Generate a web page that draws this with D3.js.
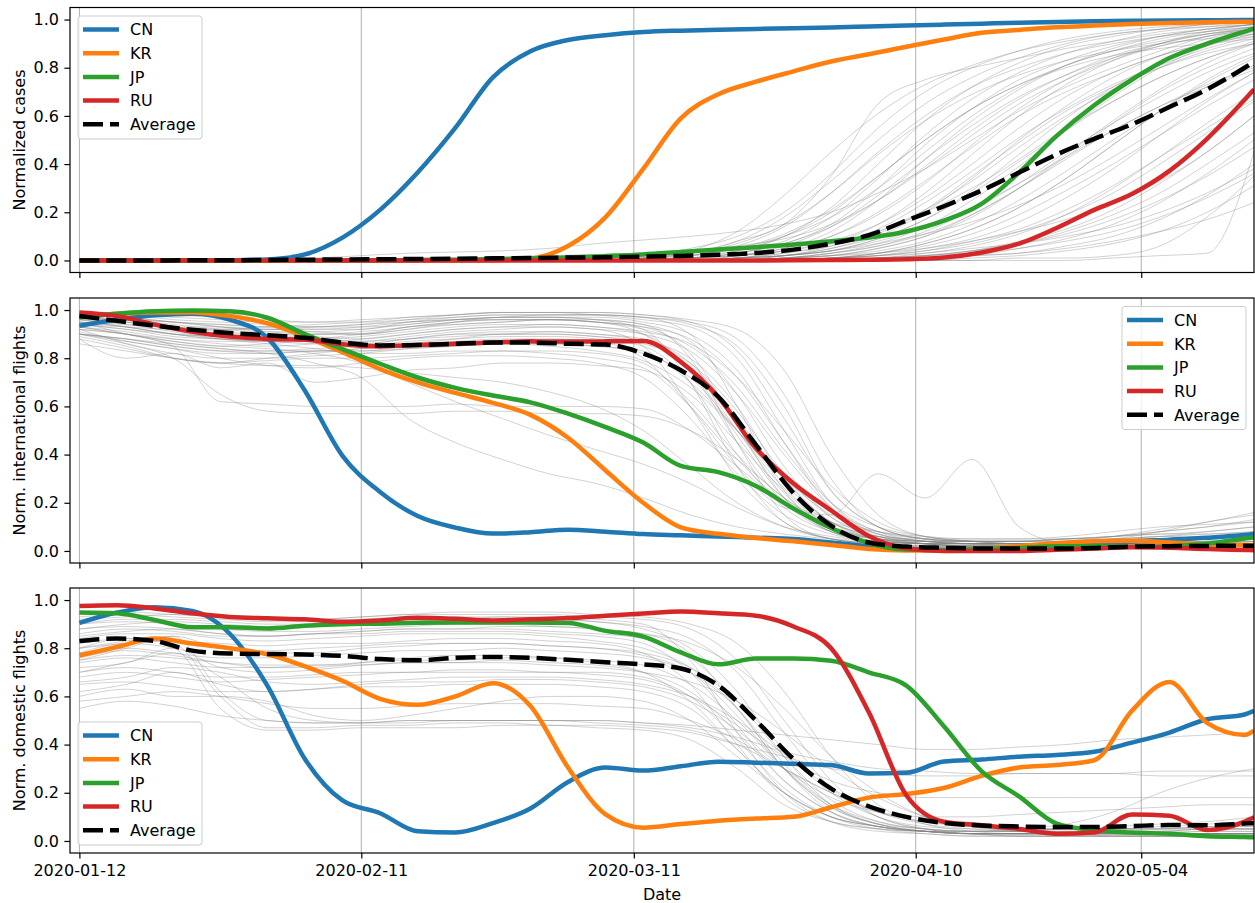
<!DOCTYPE html>
<html><head><meta charset="utf-8">
<script src="https://cdn.jsdelivr.net/npm/d3@7/dist/d3.min.js"></script>
<style>body{margin:0;background:#fff}svg{display:block}text{font-family:"DejaVu Sans",sans-serif}</style>
</head><body><svg id="c" width="1255" height="903"></svg>
<script>
// ---------- data ----------
const startDate = "2020-01-12";
const countries = ["CN","KR","JP","RU"];
const legendLabels = ["CN","KR","JP","RU","Average"];
const tickDates = ["2020-01-12","2020-02-11","2020-03-11","2020-04-10","2020-05-04"];
const yTicks = [0.0,0.2,0.4,0.6,0.8,1.0];
// day offsets from startDate for the country/average series
const colorDays = [0,4,8,12,16,20,24,28,32,36,40,44,48,52,56,60,64,68,72,76,80,84,88,92,96,100,104,108,112,116,120,124,125];
// day offsets for the thin grey per-country lines
const greyDays = [0,5,10,15,20,25,30,35,40,45,50,55,60,65,70,75,80,85,90,95,100,105,110,115,120,125];

const casesCN = [0,0,0,0,0.001,0.004,0.025,0.095,0.21,0.365,0.55,0.76,0.868,0.915,0.935,0.948,0.954,0.958,0.961,0.964,0.967,0.971,0.975,0.979,0.983,0.987,0.99,0.993,0.995,0.996,0.997,0.998,0.998];
const casesKR = [0,0,0,0,0,0,0,0,0,0,0,0.001,0.008,0.06,0.18,0.38,0.59,0.69,0.742,0.785,0.826,0.856,0.887,0.917,0.945,0.957,0.968,0.975,0.981,0.986,0.989,0.991,0.991];
const casesJP = [0,0,0,0,0,0,0,0,0,0.002,0.003,0.005,0.008,0.012,0.018,0.025,0.035,0.045,0.055,0.066,0.08,0.095,0.12,0.165,0.235,0.365,0.517,0.644,0.75,0.84,0.9,0.95,0.962];
const casesRU = [0,0,0,0,0,0,0,0,0,0,0,0,0,0,0,0,0,0,0,0.001,0.002,0.003,0.005,0.012,0.033,0.07,0.135,0.21,0.276,0.372,0.505,0.667,0.71];
const casesAvg = [0,0,0,0.001,0.001,0.002,0.003,0.004,0.005,0.006,0.007,0.009,0.01,0.012,0.013,0.016,0.019,0.024,0.031,0.045,0.07,0.105,0.165,0.225,0.29,0.365,0.44,0.505,0.565,0.637,0.71,0.8,0.825];

const intlCN = [0.935,0.96,0.978,0.985,0.96,0.885,0.665,0.395,0.245,0.145,0.097,0.072,0.078,0.088,0.08,0.07,0.065,0.06,0.055,0.05,0.035,0.02,0.008,0.005,0.008,0.012,0.02,0.028,0.04,0.047,0.055,0.066,0.07];
const intlKR = [0.975,0.985,0.99,0.99,0.975,0.945,0.89,0.825,0.755,0.70,0.656,0.615,0.565,0.47,0.334,0.2,0.098,0.071,0.054,0.04,0.025,0.008,0.002,0.003,0.01,0.02,0.032,0.04,0.042,0.035,0.028,0.025,0.025];
const intlJP = [0.97,0.985,0.995,0.998,0.995,0.968,0.90,0.838,0.777,0.72,0.677,0.645,0.617,0.57,0.514,0.45,0.353,0.327,0.27,0.176,0.095,0.033,0.006,0.004,0.008,0.012,0.02,0.02,0.017,0.02,0.03,0.052,0.057];
const intlRU = [0.99,0.975,0.94,0.91,0.89,0.88,0.877,0.858,0.849,0.855,0.86,0.865,0.87,0.869,0.87,0.872,0.785,0.638,0.426,0.28,0.168,0.062,0.01,0.0,0.0,0.0,0.005,0.01,0.015,0.013,0.008,0.004,0.003];
const intlAvg = [0.975,0.955,0.935,0.918,0.905,0.895,0.885,0.865,0.853,0.855,0.86,0.865,0.865,0.86,0.857,0.82,0.75,0.64,0.44,0.24,0.105,0.035,0.018,0.013,0.01,0.01,0.01,0.012,0.018,0.02,0.021,0.022,0.022];

const domCN = [0.905,0.948,0.97,0.955,0.86,0.645,0.34,0.168,0.115,0.04,0.035,0.074,0.135,0.245,0.305,0.292,0.31,0.329,0.325,0.32,0.315,0.28,0.283,0.33,0.338,0.35,0.357,0.37,0.408,0.45,0.505,0.525,0.54];
const domKR = [0.77,0.805,0.84,0.82,0.8,0.775,0.725,0.665,0.59,0.565,0.6,0.655,0.56,0.305,0.11,0.055,0.07,0.084,0.093,0.1,0.14,0.18,0.195,0.22,0.27,0.305,0.315,0.335,0.54,0.66,0.49,0.44,0.458];
const domJP = [0.948,0.945,0.917,0.887,0.887,0.882,0.893,0.9,0.902,0.906,0.907,0.907,0.907,0.905,0.872,0.848,0.783,0.733,0.757,0.757,0.748,0.70,0.645,0.476,0.29,0.185,0.072,0.045,0.035,0.03,0.02,0.016,0.015];
const domRU = [0.975,0.978,0.965,0.945,0.93,0.924,0.92,0.91,0.915,0.926,0.922,0.915,0.92,0.925,0.935,0.944,0.952,0.945,0.935,0.89,0.8,0.535,0.19,0.08,0.065,0.05,0.03,0.035,0.11,0.105,0.045,0.08,0.098];
const domAvg = [0.83,0.84,0.83,0.79,0.778,0.776,0.774,0.768,0.755,0.75,0.76,0.764,0.76,0.752,0.742,0.733,0.716,0.645,0.5,0.34,0.217,0.144,0.1,0.075,0.064,0.06,0.058,0.058,0.062,0.066,0.065,0.072,0.074];

const casesGrey = [
 [0,0,0,0,0.005,0.01,0.02,0.03,0.035,0.04,0.05,0.07,0.085,0.1,0.12,0.15,0.2,0.28,0.38,0.5,0.62,0.72,0.8,0.87,0.93,0.97],
 [0,0,0,0,0,0,0,0,0,0,0,0,0.01,0.03,0.08,0.15,0.35,0.65,0.75,0.8,0.84,0.88,0.91,0.94,0.96,0.98],
 [0,0,0,0,0,0,0,0.003,0.008,0.015,0.02,0.025,0.03,0.04,0.06,0.09,0.15,0.25,0.38,0.52,0.65,0.75,0.83,0.89,0.93,0.96],
 [0,0,0,0,0,0,0,0,0,0,0,0,0.01,0.03,0.08,0.18,0.33,0.5,0.65,0.76,0.84,0.9,0.94,0.96,0.98,0.99],
 [0,0,0,0,0,0,0,0,0,0,0,0,0,0.01,0.03,0.08,0.18,0.34,0.52,0.67,0.78,0.86,0.91,0.95,0.97,0.99],
 [0,0,0,0,0,0,0,0,0,0,0,0,0,0.01,0.02,0.05,0.12,0.25,0.42,0.58,0.71,0.81,0.88,0.93,0.96,0.98],
 [0,0,0,0,0,0,0,0,0,0,0,0,0,0,0.01,0.03,0.07,0.15,0.28,0.44,0.6,0.73,0.83,0.9,0.95,0.98],
 [0,0,0,0,0,0,0,0,0,0,0,0,0,0,0.01,0.02,0.05,0.1,0.2,0.34,0.5,0.64,0.76,0.85,0.92,0.96],
 [0,0,0,0,0,0,0,0,0,0,0,0,0,0,0,0.01,0.03,0.07,0.14,0.25,0.39,0.54,0.68,0.8,0.89,0.95],
 [0,0,0,0,0,0,0,0,0,0,0,0,0,0,0,0.01,0.02,0.05,0.1,0.18,0.3,0.44,0.58,0.71,0.82,0.9],
 [0,0,0,0,0,0,0,0,0,0,0,0,0,0,0,0,0.01,0.03,0.07,0.13,0.22,0.34,0.48,0.62,0.75,0.85],
 [0,0,0,0,0,0,0,0,0,0,0,0,0,0,0,0,0.01,0.02,0.05,0.09,0.16,0.26,0.38,0.52,0.66,0.78],
 [0,0,0,0,0,0,0,0,0,0,0,0,0,0,0,0,0,0.01,0.03,0.06,0.11,0.19,0.3,0.43,0.57,0.7],
 [0,0,0,0,0,0,0,0,0,0,0,0,0,0,0,0,0,0.01,0.02,0.04,0.08,0.13,0.21,0.32,0.45,0.6],
 [0,0,0,0,0,0,0,0,0,0,0,0,0,0,0,0,0,0,0.01,0.02,0.05,0.09,0.15,0.24,0.36,0.5],
 [0,0,0,0,0,0,0,0,0,0,0,0,0,0,0,0,0,0,0.01,0.02,0.03,0.06,0.1,0.17,0.27,0.4],
 [0,0,0,0,0,0,0,0,0,0,0,0,0,0,0,0,0,0,0,0.01,0.02,0.04,0.07,0.12,0.2,0.31],
 [0,0,0,0,0,0,0,0,0,0,0,0,0,0,0,0,0,0,0,0,0,0,0.01,0.02,0.03,0.45],
 [0,0,0,0,0,0,0,0,0,0,0,0,0.01,0.02,0.04,0.1,0.22,0.4,0.58,0.72,0.82,0.89,0.93,0.96,0.98,0.99],
 [0,0,0,0,0,0,0,0,0,0,0,0,0,0.02,0.06,0.14,0.28,0.45,0.6,0.72,0.8,0.86,0.9,0.93,0.95,0.97],
 [0,0,0,0,0,0,0,0,0,0,0,0,0,0.01,0.04,0.1,0.2,0.35,0.5,0.63,0.73,0.81,0.87,0.91,0.94,0.96],
 [0,0,0,0,0,0,0,0,0,0,0,0,0,0,0.02,0.06,0.14,0.27,0.42,0.56,0.68,0.77,0.84,0.89,0.93,0.96],
 [0,0,0,0,0,0,0,0,0,0,0,0,0,0,0.01,0.04,0.1,0.2,0.33,0.47,0.6,0.7,0.78,0.85,0.9,0.94],
 [0,0,0,0,0,0,0,0,0,0,0,0,0,0,0.01,0.02,0.06,0.13,0.24,0.37,0.51,0.63,0.73,0.81,0.88,0.93],
 [0,0,0,0,0,0,0,0,0,0,0,0,0,0,0,0.02,0.04,0.09,0.17,0.28,0.41,0.54,0.66,0.76,0.84,0.91],
 [0,0,0,0,0,0,0,0,0,0,0,0,0,0,0,0.01,0.03,0.06,0.12,0.21,0.32,0.45,0.57,0.68,0.78,0.86],
 [0,0,0,0,0,0,0,0,0,0,0,0,0,0,0,0.01,0.02,0.04,0.08,0.15,0.25,0.37,0.5,0.62,0.72,0.81],
 [0,0,0,0,0,0,0,0,0,0,0,0,0,0,0,0,0.01,0.03,0.06,0.11,0.19,0.29,0.4,0.52,0.64,0.75],
 [0,0,0,0,0,0,0,0,0,0,0,0,0,0,0,0,0.01,0.02,0.04,0.08,0.13,0.21,0.31,0.43,0.55,0.67],
 [0,0,0,0,0,0,0,0,0,0,0,0,0,0,0,0,0,0.01,0.02,0.04,0.07,0.12,0.19,0.28,0.4,0.53],
 [0,0,0,0,0,0,0,0,0,0,0,0,0,0,0,0,0,0.01,0.02,0.03,0.05,0.08,0.12,0.18,0.26,0.36],
 [0,0,0,0,0,0,0,0,0,0,0,0,0,0,0,0,0,0,0,0,0.01,0.01,0.02,0.06,0.18,0.35],
 [0,0,0,0,0,0,0,0,0,0,0,0,0.01,0.04,0.12,0.27,0.45,0.61,0.73,0.81,0.87,0.91,0.94,0.96,0.97,0.98],
 [0,0,0,0,0,0,0,0,0,0,0,0.01,0.02,0.05,0.1,0.2,0.36,0.55,0.7,0.8,0.87,0.92,0.95,0.97,0.98,0.99],
 [0,0,0,0,0,0,0,0,0,0,0,0,0,0.01,0.03,0.07,0.15,0.3,0.48,0.63,0.75,0.83,0.89,0.93,0.96,0.98],
 [0,0,0,0,0,0,0,0,0,0,0,0,0,0,0.01,0.02,0.05,0.11,0.21,0.35,0.49,0.62,0.72,0.8,0.86,0.9],
 [0,0,0,0,0,0,0,0,0,0,0,0,0,0,0,0.01,0.02,0.05,0.1,0.19,0.3,0.42,0.54,0.64,0.73,0.8],
 [0,0,0,0,0,0,0,0,0,0,0,0,0,0.01,0.02,0.04,0.07,0.12,0.2,0.3,0.42,0.55,0.66,0.76,0.84,0.9],
 [0,0,0,0,0,0,0,0,0,0,0,0,0,0,0.01,0.02,0.04,0.07,0.11,0.16,0.23,0.32,0.43,0.55,0.67,0.78],
 [0,0,0,0,0,0,0,0,0,0,0,0,0,0,0,0.01,0.02,0.03,0.05,0.08,0.12,0.17,0.24,0.33,0.45,0.6],
 [0,0,0,0,0,0,0,0,0,0,0,0,0,0,0,0,0.01,0.02,0.03,0.05,0.07,0.1,0.14,0.2,0.28,0.38],
 [0,0,0,0,0,0,0,0,0,0,0,0,0.01,0.02,0.05,0.1,0.18,0.3,0.45,0.6,0.72,0.81,0.87,0.92,0.95,0.97],
 [0,0,0,0,0,0,0,0,0,0,0,0,0,0.01,0.03,0.07,0.14,0.25,0.39,0.54,0.67,0.77,0.85,0.9,0.94,0.96],
 [0,0,0,0,0,0,0,0,0,0,0,0,0,0,0.01,0.03,0.06,0.12,0.21,0.33,0.47,0.6,0.71,0.8,0.87,0.92],
 [0,0,0,0,0,0,0,0,0,0,0,0,0,0,0,0.01,0.03,0.06,0.11,0.19,0.3,0.43,0.57,0.7,0.8,0.88],
 [0,0,0,0,0,0,0,0,0,0,0,0,0,0.02,0.05,0.11,0.21,0.35,0.5,0.63,0.73,0.8,0.85,0.88,0.9,0.92],
 [0,0,0,0,0,0,0,0,0,0,0,0,0.01,0.03,0.07,0.15,0.28,0.44,0.58,0.69,0.77,0.83,0.87,0.9,0.92,0.94],
 [0,0,0,0,0,0,0,0,0,0,0,0,0,0,0.01,0.02,0.04,0.08,0.14,0.22,0.32,0.43,0.54,0.64,0.72,0.79],
 [0,0,0,0,0,0,0,0,0,0,0,0,0,0,0,0,0.01,0.02,0.04,0.07,0.12,0.19,0.28,0.4,0.53,0.66],
 [0,0,0,0,0,0,0,0,0,0,0,0,0,0,0,0,0,0.01,0.02,0.04,0.07,0.11,0.17,0.25,0.35,0.47],
 [0,0,0,0,0,0,0,0,0,0,0,0,0,0,0,0,0,0,0.01,0.02,0.03,0.05,0.08,0.12,0.17,0.24],
 [0,0,0,0,0,0,0,0,0,0,0,0,0,0.01,0.02,0.04,0.08,0.15,0.26,0.4,0.55,0.68,0.78,0.85,0.9,0.93],
 [0,0,0,0,0,0,0,0,0,0,0,0,0,0,0.02,0.05,0.1,0.19,0.32,0.48,0.63,0.75,0.84,0.9,0.94,0.97],
 [0,0,0,0,0,0,0,0,0,0,0,0,0,0,0,0.02,0.04,0.09,0.17,0.29,0.44,0.59,0.72,0.82,0.89,0.94],
 [0,0,0,0,0,0,0,0,0,0,0,0,0,0,0,0,0.01,0.03,0.07,0.13,0.22,0.34,0.48,0.62,0.74,0.84]
];

const intlGrey = [
 [0.98,0.97,0.95,0.94,0.93,0.92,0.92,0.95,0.97,0.98,0.98,0.98,0.97,0.9,0.6,0.25,0.08,0.04,0.03,0.03,0.02,0.02,0.02,0.03,0.03,0.04],
 [0.95,0.93,0.9,0.88,0.88,0.9,0.9,0.93,0.94,0.95,0.96,0.96,0.94,0.8,0.45,0.15,0.05,0.03,0.02,0.02,0.02,0.02,0.03,0.03,0.04,0.05],
 [0.97,0.95,0.92,0.9,0.9,0.89,0.88,0.9,0.92,0.93,0.93,0.92,0.85,0.6,0.3,0.12,0.05,0.03,0.02,0.02,0.02,0.02,0.02,0.02,0.03,0.03],
 [0.93,0.9,0.87,0.85,0.86,0.87,0.86,0.88,0.9,0.9,0.91,0.9,0.88,0.78,0.55,0.3,0.12,0.05,0.03,0.02,0.02,0.02,0.02,0.02,0.02,0.02],
 [0.96,0.96,0.95,0.93,0.92,0.93,0.94,0.96,0.98,0.99,0.99,0.98,0.96,0.93,0.8,0.5,0.2,0.07,0.04,0.03,0.03,0.03,0.04,0.05,0.06,0.07],
 [0.9,0.88,0.85,0.83,0.83,0.84,0.85,0.87,0.88,0.89,0.89,0.88,0.85,0.7,0.4,0.18,0.08,0.05,0.04,0.04,0.04,0.05,0.06,0.07,0.08,0.1],
 [0.99,0.98,0.96,0.95,0.94,0.93,0.93,0.94,0.96,0.97,0.98,0.98,0.97,0.95,0.88,0.65,0.3,0.1,0.05,0.04,0.03,0.03,0.03,0.03,0.04,0.04],
 [0.94,0.92,0.89,0.88,0.87,0.87,0.87,0.89,0.91,0.92,0.93,0.92,0.9,0.83,0.65,0.4,0.18,0.08,0.04,0.03,0.02,0.02,0.02,0.02,0.02,0.03],
 [0.92,0.9,0.86,0.84,0.83,0.83,0.83,0.84,0.85,0.86,0.86,0.85,0.83,0.7,0.5,0.28,0.12,0.06,0.03,0.02,0.02,0.02,0.02,0.02,0.03,0.03],
 [0.97,0.95,0.93,0.92,0.92,0.91,0.9,0.92,0.94,0.95,0.96,0.95,0.93,0.88,0.72,0.45,0.2,0.08,0.05,0.04,0.04,0.05,0.06,0.07,0.07,0.08],
 [0.95,0.9,0.85,0.62,0.61,0.6,0.6,0.6,0.61,0.6,0.6,0.6,0.59,0.5,0.35,0.2,0.1,0.05,0.03,0.02,0.02,0.02,0.02,0.02,0.02,0.02],
 [0.92,0.86,0.8,0.65,0.58,0.57,0.57,0.57,0.58,0.58,0.57,0.57,0.56,0.5,0.38,0.22,0.1,0.05,0.03,0.02,0.02,0.02,0.02,0.02,0.02,0.02],
 [0.9,0.88,0.86,0.84,0.82,0.78,0.72,0.55,0.45,0.38,0.32,0.28,0.22,0.15,0.1,0.07,0.05,0.04,0.03,0.03,0.03,0.03,0.03,0.03,0.03,0.03],
 [0.93,0.9,0.87,0.85,0.84,0.82,0.78,0.7,0.62,0.55,0.48,0.42,0.36,0.28,0.18,0.1,0.06,0.04,0.03,0.03,0.03,0.03,0.03,0.03,0.04,0.04],
 [0.9,0.88,0.85,0.83,0.82,0.83,0.84,0.86,0.87,0.88,0.88,0.87,0.8,0.6,0.35,0.18,0.15,0.32,0.22,0.38,0.1,0.03,0.02,0.02,0.02,0.02],
 [0.88,0.8,0.82,0.76,0.78,0.7,0.72,0.75,0.76,0.78,0.78,0.77,0.75,0.65,0.45,0.25,0.1,0.05,0.03,0.03,0.03,0.03,0.03,0.03,0.03,0.03],
 [0.96,0.94,0.91,0.88,0.86,0.84,0.82,0.82,0.83,0.83,0.82,0.8,0.76,0.6,0.38,0.2,0.1,0.06,0.05,0.05,0.05,0.06,0.08,0.1,0.11,0.12],
 [0.94,0.93,0.92,0.92,0.93,0.94,0.95,0.97,0.98,0.99,0.99,0.99,0.98,0.96,0.92,0.75,0.4,0.15,0.06,0.04,0.03,0.03,0.03,0.04,0.05,0.06],
 [0.98,0.97,0.95,0.93,0.91,0.9,0.9,0.92,0.95,0.97,0.97,0.96,0.92,0.7,0.35,0.12,0.05,0.03,0.02,0.02,0.02,0.02,0.02,0.02,0.02,0.02],
 [0.91,0.87,0.84,0.8,0.77,0.76,0.78,0.8,0.81,0.81,0.8,0.78,0.72,0.55,0.32,0.15,0.07,0.04,0.03,0.03,0.03,0.03,0.04,0.04,0.05,0.05],
 [0.95,0.94,0.93,0.93,0.92,0.92,0.93,0.95,0.96,0.97,0.97,0.97,0.95,0.9,0.75,0.45,0.18,0.07,0.04,0.03,0.03,0.04,0.05,0.08,0.12,0.15],
 [0.89,0.85,0.8,0.78,0.79,0.8,0.8,0.81,0.82,0.83,0.83,0.82,0.78,0.62,0.4,0.22,0.12,0.08,0.05,0.04,0.04,0.04,0.05,0.06,0.07,0.08],
 [0.97,0.96,0.95,0.94,0.93,0.93,0.94,0.95,0.96,0.96,0.96,0.95,0.92,0.85,0.68,0.42,0.2,0.1,0.06,0.04,0.03,0.03,0.03,0.03,0.03,0.03],
 [0.86,0.83,0.8,0.78,0.77,0.77,0.76,0.74,0.72,0.7,0.66,0.6,0.5,0.35,0.2,0.1,0.05,0.03,0.02,0.02,0.02,0.02,0.02,0.02,0.02,0.02],
 [0.99,0.99,0.98,0.97,0.96,0.95,0.95,0.96,0.97,0.98,0.98,0.98,0.97,0.94,0.85,0.6,0.25,0.1,0.05,0.04,0.04,0.05,0.06,0.08,0.1,0.12],
 [0.93,0.91,0.88,0.86,0.85,0.86,0.88,0.9,0.92,0.93,0.94,0.93,0.9,0.75,0.45,0.2,0.08,0.04,0.03,0.03,0.03,0.03,0.03,0.03,0.03,0.03],
 [0.9,0.87,0.84,0.82,0.82,0.83,0.83,0.85,0.86,0.86,0.85,0.83,0.79,0.68,0.5,0.3,0.15,0.08,0.06,0.05,0.05,0.05,0.06,0.08,0.1,0.13],
 [0.96,0.93,0.9,0.89,0.88,0.88,0.87,0.88,0.89,0.9,0.9,0.89,0.87,0.8,0.6,0.3,0.12,0.06,0.04,0.04,0.04,0.05,0.05,0.06,0.06,0.06],
 [0.97,0.96,0.94,0.92,0.91,0.91,0.92,0.94,0.96,0.97,0.97,0.96,0.94,0.87,0.65,0.35,0.14,0.06,0.03,0.02,0.02,0.02,0.02,0.02,0.03,0.03],
 [0.92,0.9,0.88,0.87,0.87,0.88,0.9,0.93,0.95,0.96,0.96,0.95,0.93,0.82,0.52,0.22,0.08,0.04,0.03,0.02,0.02,0.02,0.02,0.02,0.02,0.02],
 [0.95,0.93,0.9,0.88,0.87,0.86,0.86,0.88,0.9,0.91,0.91,0.9,0.87,0.76,0.5,0.24,0.1,0.05,0.04,0.04,0.04,0.04,0.05,0.06,0.08,0.1],
 [0.99,0.98,0.97,0.96,0.95,0.95,0.96,0.97,0.98,0.99,0.99,0.99,0.98,0.95,0.83,0.55,0.25,0.1,0.05,0.03,0.03,0.03,0.03,0.03,0.03,0.04],
 [0.9,0.86,0.82,0.8,0.8,0.81,0.82,0.84,0.85,0.86,0.86,0.85,0.82,0.72,0.5,0.26,0.12,0.06,0.04,0.03,0.03,0.03,0.04,0.05,0.06,0.07],
 [0.96,0.95,0.93,0.91,0.9,0.9,0.91,0.93,0.95,0.96,0.96,0.95,0.9,0.75,0.48,0.22,0.09,0.05,0.04,0.03,0.03,0.04,0.06,0.09,0.12,0.16],
 [0.94,0.92,0.9,0.89,0.88,0.88,0.89,0.91,0.93,0.94,0.94,0.93,0.91,0.86,0.72,0.5,0.27,0.12,0.06,0.04,0.03,0.03,0.03,0.03,0.03,0.03],
 [0.88,0.84,0.8,0.78,0.8,0.82,0.84,0.86,0.88,0.9,0.9,0.89,0.86,0.78,0.58,0.32,0.14,0.07,0.04,0.03,0.03,0.03,0.03,0.03,0.04,0.05]
];

const domGrey = [
 [0.9,0.92,0.92,0.91,0.9,0.9,0.91,0.92,0.92,0.93,0.93,0.92,0.9,0.75,0.45,0.2,0.08,0.04,0.03,0.02,0.02,0.02,0.02,0.02,0.02,0.02],
 [0.85,0.87,0.88,0.86,0.85,0.86,0.87,0.88,0.88,0.89,0.89,0.88,0.86,0.78,0.55,0.3,0.12,0.06,0.04,0.03,0.03,0.03,0.03,0.03,0.04,0.04],
 [0.8,0.84,0.82,0.6,0.47,0.47,0.48,0.48,0.49,0.49,0.48,0.48,0.47,0.45,0.4,0.35,0.3,0.28,0.27,0.27,0.28,0.28,0.28,0.27,0.27,0.27],
 [0.78,0.82,0.8,0.55,0.46,0.46,0.47,0.47,0.47,0.48,0.48,0.47,0.46,0.42,0.3,0.15,0.08,0.05,0.04,0.04,0.04,0.05,0.06,0.07,0.08,0.1],
 [0.75,0.8,0.85,0.62,0.5,0.49,0.49,0.5,0.5,0.5,0.5,0.5,0.49,0.48,0.46,0.44,0.42,0.4,0.38,0.38,0.39,0.4,0.42,0.43,0.44,0.45],
 [0.7,0.72,0.7,0.68,0.68,0.69,0.7,0.7,0.71,0.71,0.7,0.7,0.68,0.6,0.42,0.22,0.1,0.05,0.03,0.02,0.02,0.02,0.02,0.02,0.02,0.02],
 [0.65,0.66,0.64,0.62,0.62,0.63,0.64,0.64,0.65,0.65,0.65,0.64,0.62,0.55,0.38,0.2,0.1,0.06,0.04,0.03,0.03,0.03,0.03,0.03,0.03,0.03],
 [0.6,0.63,0.6,0.6,0.58,0.52,0.5,0.52,0.55,0.58,0.6,0.6,0.58,0.5,0.35,0.2,0.1,0.06,0.04,0.03,0.03,0.03,0.04,0.04,0.05,0.05],
 [0.88,0.9,0.91,0.9,0.89,0.9,0.9,0.91,0.92,0.92,0.92,0.91,0.88,0.8,0.62,0.35,0.15,0.07,0.04,0.03,0.03,0.03,0.03,0.03,0.03,0.03],
 [0.82,0.84,0.83,0.82,0.81,0.82,0.82,0.83,0.84,0.84,0.83,0.82,0.78,0.65,0.4,0.18,0.08,0.05,0.04,0.03,0.03,0.03,0.03,0.03,0.03,0.03],
 [0.75,0.77,0.76,0.74,0.73,0.73,0.74,0.75,0.75,0.76,0.76,0.75,0.73,0.65,0.5,0.3,0.15,0.08,0.05,0.04,0.04,0.05,0.05,0.06,0.07,0.08],
 [0.72,0.74,0.8,0.72,0.7,0.71,0.73,0.74,0.74,0.75,0.74,0.73,0.7,0.62,0.45,0.25,0.12,0.06,0.04,0.03,0.03,0.03,0.03,0.03,0.03,0.03],
 [0.92,0.93,0.94,0.93,0.92,0.92,0.93,0.94,0.94,0.94,0.94,0.93,0.92,0.88,0.75,0.5,0.25,0.1,0.05,0.03,0.02,0.02,0.02,0.02,0.02,0.02],
 [0.68,0.7,0.68,0.66,0.67,0.68,0.69,0.7,0.7,0.7,0.7,0.69,0.67,0.6,0.48,0.35,0.25,0.2,0.18,0.18,0.18,0.18,0.18,0.18,0.18,0.18],
 [0.8,0.83,0.85,0.8,0.78,0.78,0.8,0.81,0.82,0.82,0.81,0.8,0.78,0.72,0.58,0.38,0.2,0.1,0.06,0.05,0.05,0.05,0.05,0.05,0.06,0.06],
 [0.86,0.88,0.87,0.85,0.85,0.86,0.86,0.87,0.87,0.87,0.86,0.85,0.82,0.7,0.48,0.25,0.12,0.06,0.04,0.04,0.05,0.07,0.12,0.2,0.26,0.3],
 [0.58,0.6,0.62,0.6,0.57,0.55,0.55,0.56,0.57,0.57,0.57,0.56,0.55,0.5,0.42,0.3,0.2,0.12,0.08,0.06,0.05,0.05,0.05,0.05,0.05,0.05],
 [0.9,0.91,0.9,0.88,0.87,0.87,0.88,0.89,0.9,0.9,0.89,0.88,0.86,0.82,0.72,0.55,0.35,0.2,0.1,0.06,0.04,0.03,0.03,0.03,0.03,0.03],
 [0.78,0.8,0.78,0.76,0.76,0.77,0.78,0.79,0.79,0.8,0.79,0.78,0.76,0.7,0.55,0.32,0.15,0.07,0.04,0.03,0.02,0.02,0.02,0.02,0.02,0.02],
 [0.62,0.65,0.7,0.65,0.62,0.63,0.65,0.66,0.66,0.67,0.67,0.66,0.64,0.58,0.46,0.3,0.18,0.12,0.1,0.1,0.11,0.12,0.13,0.14,0.15,0.15],
 [0.84,0.86,0.86,0.84,0.83,0.84,0.85,0.86,0.86,0.86,0.85,0.83,0.8,0.72,0.55,0.3,0.14,0.07,0.05,0.04,0.04,0.05,0.05,0.05,0.06,0.06],
 [0.95,0.95,0.94,0.93,0.92,0.92,0.93,0.94,0.95,0.95,0.95,0.94,0.93,0.9,0.82,0.62,0.35,0.15,0.07,0.04,0.03,0.03,0.02,0.02,0.02,0.02],
 [0.7,0.74,0.78,0.68,0.55,0.5,0.49,0.49,0.5,0.5,0.5,0.5,0.49,0.47,0.43,0.37,0.33,0.3,0.29,0.28,0.28,0.28,0.28,0.29,0.29,0.29],
 [0.74,0.76,0.74,0.72,0.72,0.73,0.73,0.74,0.74,0.74,0.73,0.72,0.7,0.66,0.58,0.45,0.3,0.18,0.1,0.06,0.04,0.03,0.03,0.03,0.03,0.03],
 [0.88,0.89,0.88,0.86,0.85,0.86,0.87,0.88,0.88,0.88,0.87,0.86,0.84,0.76,0.58,0.35,0.17,0.08,0.05,0.04,0.04,0.04,0.04,0.04,0.05,0.05],
 [0.8,0.82,0.83,0.8,0.79,0.8,0.81,0.82,0.82,0.82,0.81,0.8,0.77,0.7,0.52,0.3,0.14,0.07,0.04,0.03,0.03,0.03,0.03,0.03,0.03,0.03],
 [0.66,0.68,0.72,0.7,0.66,0.65,0.66,0.67,0.68,0.68,0.68,0.67,0.65,0.6,0.5,0.36,0.22,0.12,0.07,0.05,0.04,0.04,0.04,0.04,0.04,0.04],
 [0.93,0.94,0.93,0.92,0.91,0.91,0.92,0.93,0.93,0.93,0.92,0.91,0.89,0.84,0.7,0.45,0.22,0.1,0.05,0.03,0.03,0.03,0.03,0.03,0.03,0.03],
 [0.76,0.79,0.77,0.74,0.72,0.72,0.74,0.76,0.77,0.77,0.76,0.74,0.7,0.58,0.38,0.2,0.1,0.06,0.04,0.03,0.03,0.03,0.03,0.03,0.03,0.03],
 [0.55,0.58,0.56,0.52,0.5,0.49,0.49,0.5,0.5,0.5,0.5,0.49,0.48,0.46,0.4,0.3,0.2,0.12,0.08,0.06,0.05,0.05,0.05,0.05,0.05,0.05]
];

const colors = {CN:"#1f77b4", KR:"#ff7f0e", JP:"#2ca02c", RU:"#d62728"};

// ---------- drawing ----------
const svg = d3.select("#c");
const parse = d3.utcParse("%Y-%m-%d");
const t0 = parse(startDate);
const dayDate = d => d3.utcDay.offset(t0, d);
const L = 70, R = 1254, PH = 265;
const x = d3.scaleUtc().domain([parse("2020-01-11"), parse("2020-05-16")]).range([L, R]);
const ticks = tickDates.map(parse);
const FONT = "DejaVu Sans";

const panels = [
  {top: 7.5, label: "Normalized cases", series: [casesCN, casesKR, casesJP, casesRU], avg: casesAvg, greys: casesGrey, legend: "ul"},
  {top: 298, label: "Norm. international flights", series: [intlCN, intlKR, intlJP, intlRU], avg: intlAvg, greys: intlGrey, legend: "ur"},
  {top: 588, label: "Norm. domestic flights", series: [domCN, domKR, domJP, domRU], avg: domAvg, greys: domGrey, legend: "ll"}
];

panels.forEach((p, pi) => {
  const y = d3.scaleLinear().domain([-0.05, 1.05]).range([p.top + PH, p.top]);
  const g = svg.append("g");
  const cid = "clip" + pi;
  svg.append("clipPath").attr("id", cid).append("rect")
    .attr("x", L).attr("y", p.top).attr("width", R - L).attr("height", PH);

  g.selectAll("line.grid").data(ticks).join("line")
    .attr("x1", d => x(d)).attr("x2", d => x(d))
    .attr("y1", p.top).attr("y2", p.top + PH)
    .attr("stroke", "#b0b0b0").attr("stroke-width", 1);

  const plot = g.append("g").attr("clip-path", `url(#${cid})`);
  const greyLine = d3.line().x((v, i) => x(dayDate(greyDays[i]))).y(v => y(v)).curve(d3.curveMonotoneX);
  const colLine = d3.line().x((v, i) => x(dayDate(colorDays[i]))).y(v => y(v)).curve(d3.curveMonotoneX);

  plot.selectAll("path.grey").data(p.greys).join("path")
    .attr("d", d => greyLine(d.slice(0, greyDays.length)))
    .attr("fill", "none").attr("stroke", "#808080").attr("stroke-opacity", 0.4).attr("stroke-width", 0.9);

  p.series.forEach((s, i) => {
    plot.append("path").attr("d", colLine(s)).attr("fill", "none")
      .attr("stroke", colors[countries[i]]).attr("stroke-width", 4.5)
      .attr("stroke-linejoin", "round").attr("stroke-linecap", "butt");
  });
  plot.append("path").attr("d", colLine(p.avg)).attr("fill", "none")
    .attr("stroke", "#000").attr("stroke-width", 4.5).attr("stroke-dasharray", "20,7")
    .attr("stroke-linejoin", "round");

  g.append("rect").attr("x", L).attr("y", p.top).attr("width", R - L).attr("height", PH)
    .attr("fill", "none").attr("stroke", "#000").attr("stroke-width", 1.2);

  const ya = g.append("g").attr("transform", `translate(${L},0)`)
    .call(d3.axisLeft(y).tickValues(yTicks).tickFormat(d3.format(".1f")).tickSize(5.6).tickPadding(5.4));
  ya.select(".domain").remove();
  ya.selectAll("line").attr("stroke", "#000").attr("stroke-width", 1.2);
  ya.selectAll("text").attr("font-size", 16).attr("font-family", FONT).attr("fill", "#000");

  const xa = g.append("g").attr("transform", `translate(0,${p.top + PH})`)
    .call(d3.axisBottom(x).tickValues(ticks).tickSize(5.6).tickPadding(6.5)
      .tickFormat(pi === 2 ? d3.utcFormat("%Y-%m-%d") : () => ""));
  xa.select(".domain").remove();
  xa.selectAll("line").attr("stroke", "#000").attr("stroke-width", 1.2);
  xa.selectAll("text").attr("font-size", 16).attr("font-family", FONT).attr("fill", "#000");

  g.append("text").attr("transform", `translate(24.5,${p.top + PH / 2}) rotate(-90)`)
    .attr("text-anchor", "middle").attr("font-size", 16).attr("font-family", FONT)
    .text(p.label);

  const lw = 124, lh = 123;
  let lx = p.legend === "ur" ? R - 8 - lw : L + 8;
  let ly = p.legend === "ll" ? p.top + PH - 8 - lh : p.top + 8.5;
  const lg = g.append("g").attr("transform", `translate(${lx},${ly})`);
  lg.append("rect").attr("width", lw).attr("height", lh).attr("rx", 3)
    .attr("fill", "#fff").attr("fill-opacity", 0.8).attr("stroke", "#cccccc").attr("stroke-width", 1);
  legendLabels.forEach((name, i) => {
    const cy = 13.5 + i * 23.7;
    const isAvg = name === "Average";
    lg.append("line").attr("x1", 5).attr("x2", 41).attr("y1", cy).attr("y2", cy)
      .attr("stroke", isAvg ? "#000" : colors[name]).attr("stroke-width", 4.5)
      .attr("stroke-dasharray", isAvg ? "20,7" : null);
    lg.append("text").attr("x", 52).attr("y", cy + 5.8).attr("font-size", 16)
      .attr("font-family", FONT).text(name);
  });
});

svg.append("text").attr("x", (L + R) / 2).attr("y", 900).attr("text-anchor", "middle")
  .attr("font-size", 16).attr("font-family", FONT).text("Date");
</script>
</body></html>
